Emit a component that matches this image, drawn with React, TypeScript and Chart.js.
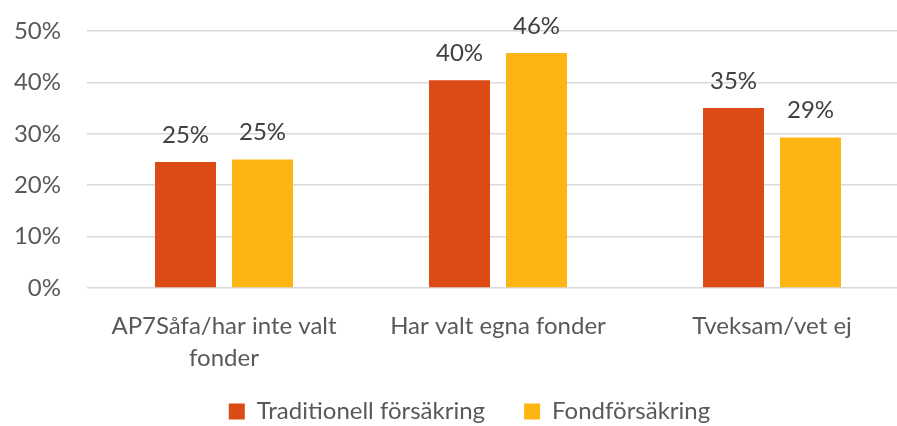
import React, { useEffect, useRef } from "react";
import { Chart, registerables } from "chart.js";

Chart.register(...registerables);

const categories: (string | string[])[] = [
  ["AP7Såfa/har inte valt", "fonder"],
  "Har valt egna fonder",
  "Tveksam/vet ej",
];
const seriesNames = ["Traditionell försäkring", "Fondförsäkring"];
const traditionell = [24.5, 40.4, 35.0];
const fond = [25.0, 45.7, 29.3];
const yTicks = [0, 10, 20, 30, 40, 50];
const colors = ["#DC4A15", "#FDB513"];

const FONT = "Lato, 'Open Sans', sans-serif";
const AREA = { left: 87, top: 31, right: 909, bottom: 288 };

const dataLabelPlugin = {
  id: "dataLabels",
  afterDatasetsDraw(chart: any) {
    const ctx = chart.ctx;
    ctx.save();
    ctx.font = `24px ${FONT}`;
    ctx.fillStyle = "#404040";
    ctx.textAlign = "center";
    ctx.textBaseline = "middle";
    chart.data.datasets.forEach((ds: any, i: number) => {
      const meta = chart.getDatasetMeta(i);
      meta.data.forEach((bar: any, j: number) => {
        const v = ds.data[j];
        ctx.fillText(`${Math.round(v)}%`, bar.x, bar.y - 27);
      });
    });
    ctx.restore();
  },
};

const areaPlugin = {
  id: "fixArea",
  afterLayout(chart: any) {
    const x = chart.scales.x;
    const y = chart.scales.y;
    const w = AREA.right - AREA.left;
    const h = AREA.bottom - AREA.top;
    x.left = AREA.left;
    x.right = AREA.right;
    x.width = w;
    const xh = x.height;
    x.top = AREA.bottom;
    x.bottom = AREA.bottom + xh;
    x.configure();
    y.top = AREA.top;
    y.bottom = AREA.bottom;
    y.height = h;
    y.left = 0;
    y.right = AREA.left;
    y.width = AREA.left;
    y.configure();
    Object.assign(chart.chartArea, { ...AREA, width: w, height: h });
    const lg = chart.legend;
    if (lg) {
      const lh = lg.height;
      lg.top = 414 - 39 - 14.4;
      lg.bottom = lg.top + lh;
      lg.left += 21;
      lg.right += 21;
    }
  },
};

export default function App() {
  const ref = useRef<HTMLCanvasElement>(null);
  useEffect(() => {
    if (!ref.current) return;
    const chart = new Chart(ref.current, {
      type: "bar",
      data: {
        labels: categories,
        datasets: [
          { label: seriesNames[0], data: traditionell, backgroundColor: colors[0] },
          { label: seriesNames[1], data: fond, backgroundColor: colors[1] },
        ],
      },
      options: {
        animation: false,
        responsive: false,
        maintainAspectRatio: false,
        datasets: {
          bar: { categoryPercentage: 0.562, barPercentage: 0.792 },
        },
        scales: {
          x: {
            grid: { display: false },
            border: { display: false },
            ticks: {
              color: "#595959",
              font: { family: FONT, size: 24, lineHeight: 1.3 },
              padding: 15,
              maxRotation: 0,
              autoSkip: false,
            },
          },
          y: {
            min: 0,
            max: 50,
            afterBuildTicks: (s: any) => {
              s.ticks = yTicks.map((v) => ({ value: v }));
            },
            grid: { color: "#d9d9d9", lineWidth: 1.5, drawTicks: false },
            border: { display: false },
            ticks: {
              color: "#595959",
              font: { family: FONT, size: 24 },
              padding: 26,
              callback: (v: any) => `${v}%`,
            },
            afterFit: (s: any) => {
              s.width = 87;
            },
          },
        },
        plugins: {
          legend: {
            position: "bottom",
            labels: {
              color: "#595959",
              font: { family: FONT, size: 24 },
              boxWidth: 16,
              boxHeight: 16,
              padding: 39,
            },
          },
          tooltip: { enabled: false },
        },
      },
      plugins: [areaPlugin, dataLabelPlugin],
    });
    return () => chart.destroy();
  }, []);
  return (
    <div style={{ position: "fixed", left: 0, top: 0, width: 897, height: 426, background: "#fff" }}>
      <canvas ref={ref} width={897} height={426} style={{ display: "block" }} />
    </div>
  );
}
